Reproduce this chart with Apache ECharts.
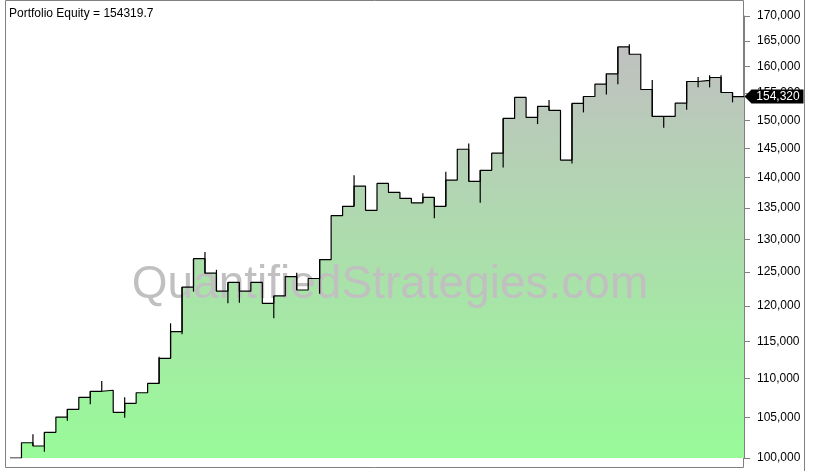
<!DOCTYPE html>
<html><head><meta charset="utf-8">
<script src="https://cdn.jsdelivr.net/npm/echarts@6/dist/echarts.min.js"></script>
<style>html,body{margin:0;padding:0;background:#fff}#c{width:817px;height:471px}</style>
</head><body><div id="c"></div>
<script>
// monthly equity levels (one per bar)
const equity = [100000, 101850, 101450, 103130, 105040, 106020, 107560, 108340, 108470, 105640,
  106780, 108150, 109370, 112710, 116370, 122770, 127030, 124840, 122170, 123470,
  122170, 123470, 120410, 121480, 124330, 122350, 124050, 126900, 133770, 135270,
  138600, 134620, 139050, 137550, 136560, 135850, 136730, 135270, 139600, 144870,
  139400, 141250, 144180, 150330, 154160, 150510, 152510, 151780, 142990, 153060,
  154340, 156640, 158600, 163800, 162370, 155640, 150690, 150690, 153100, 157140,
  157370, 157900, 155080, 154319.7];
// intra-bar extremes (bar index, low, high)
const wickBar  = [2, 3, 5, 7, 8, 10, 13, 14, 15, 16, 17, 18, 19, 20, 23, 25, 27, 30, 36, 37, 38, 40, 41, 43, 46, 47, 49, 50, 52, 53, 54, 56, 57, 59, 60, 61, 62, 63];
const wickLow  = [101450, 100760, 104580, 106660, 108340, 104960, 109370, 112710, 116010, 122110, 124840, 122170, 120410, 120480, 118260, 122350, 121800, 135270, 135850, 133360, 135270, 139400, 135860, 141740, 149310, 151780, 142420, 151420, 154710, 156640, 162370, 150690, 148640, 151890, 156040, 156040, 155080, 153260];
const wickHigh = [102900, 103130, 106020, 108340, 109690, 107560, 112930, 117550, 122770, 127030, 128050, 125350, 123470, 123470, 121480, 124900, 126900, 140400, 137400, 136730, 141010, 145890, 141250, 150330, 152510, 153690, 153060, 154340, 158600, 163800, 164330, 157450, 150690, 157140, 158010, 158330, 158340, 155080];
const yTicks = [100000, 105000, 110000, 115000, 120000, 125000, 130000, 135000, 140000, 145000, 150000, 155000, 160000, 165000, 170000];
const yMin = 100000, yMax = 170000;

const FONT = '"Liberation Sans", Arial, sans-serif';
const fmt = n => String(n).replace(/\B(?=(\d{3})+(?!\d))/g, ',');
const L = Math.log;
const last = equity[equity.length - 1];
const stepData = equity.map((v, i) => [i, L(v)]).concat([[equity.length, L(last)]]);
const wickData = wickBar.map((b, k) => [b, L(wickLow[k]), L(wickHigh[k])]);

const chart = echarts.init(document.getElementById('c'), null, {renderer: 'canvas'});
chart.setOption({
  animation: false,
  backgroundColor: '#fff',
  grid: {left: 10, right: 73, top: 16, bottom: 13, containLabel: false},
  xAxis: {type: 'value', min: 0, max: equity.length, show: false},
  yAxis: {
    type: 'value', position: 'right', min: L(yMin), max: L(yMax),
    axisLine: {show: true, onZero: false, lineStyle: {color: '#808080', width: 1}},
    axisTick: {show: true, length: 6, lineStyle: {color: '#808080'}, customValues: yTicks.map(L)},
    axisLabel: {show: true, margin: 13, color: '#000', fontSize: 12, fontFamily: FONT,
      customValues: yTicks.map(L), formatter: v => fmt(Math.round(Math.exp(v)))},
    splitLine: {show: false}
  },
  graphic: [
    {type: 'rect', z: 0, shape: {x: 5.5, y: 0.5, width: 738, height: 467}, style: {fill: 'none', stroke: '#808080', lineWidth: 1}, silent: true},
    {type: 'line', z: 0, shape: {x1: 804.5, y1: 0, x2: 804.5, y2: 471}, style: {stroke: '#808080', lineWidth: 1}, silent: true},
    {type: 'text', z: 3, x: 9, y: 8, style: {text: 'Portfolio Equity = ' + last, fill: '#000', font: '12px ' + FONT, textVerticalAlign: 'top'}, silent: true},
    {type: 'text', z: 3, x: 390, y: 285, style: {text: 'QuantifiedStrategies.com', fill: '#c0c0c0', font: '46px ' + FONT, textAlign: 'center', textVerticalAlign: 'middle'}, silent: true}
  ],
  series: [
    {
      type: 'line', step: 'end', data: stepData, symbol: 'none', z: 1, silent: true,
      lineStyle: {width: 0},
      areaStyle: {origin: 'start', opacity: 1,
        color: new echarts.graphic.LinearGradient(0, 0, 0, 1, [{offset: 0, color: '#c0c0c0'}, {offset: 1, color: '#98fb98'}])}
    },
    {
      type: 'line', step: 'end', data: stepData, symbol: 'none', z: 5, silent: true,
      lineStyle: {color: '#000', width: 1.2},
      markPoint: {
        silent: true, animation: false,
        symbol: 'path://M0,7L7,0L59,0L59,14L7,14Z', symbolSize: [59, 14], symbolKeepAspect: false,
        symbolOffset: [30, 0], itemStyle: {color: '#000'},
        label: {show: true, position: 'inside', offset: [4, 0], color: '#fff', fontSize: 12, fontFamily: FONT,
          formatter: () => fmt(Math.round(last))},
        data: [{coord: [equity.length, L(last)]}]
      }
    },
    {
      type: 'custom', z: 5, silent: true, data: wickData, encode: {x: 0, y: [1, 2]},
      renderItem: (params, api) => {
        const p1 = api.coord([api.value(0), api.value(1)]);
        const p2 = api.coord([api.value(0), api.value(2)]);
        return {type: 'line', shape: {x1: p1[0], y1: p1[1], x2: p2[0], y2: p2[1]}, style: {stroke: '#000', lineWidth: 1.2}};
      }
    }
  ]
});
</script>
</body></html>
